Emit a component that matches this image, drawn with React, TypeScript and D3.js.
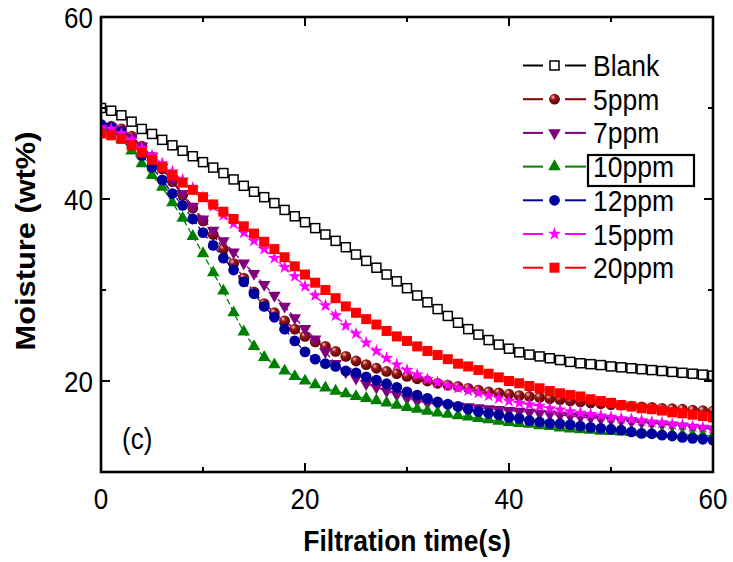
import React from 'react';
import * as d3 from 'd3';

// sample times (s)
const times = d3.range(0, 61, 1);

// moisture (wt%)
const blank = [50.0, 49.7, 49.2, 48.5, 47.7, 47.15, 46.5, 45.9, 45.3, 44.7, 44.05, 43.45, 42.85, 42.15, 41.45, 40.8, 40.2, 39.55, 38.8, 38.1, 37.45, 36.8, 36.1, 35.4, 34.7, 33.9, 33.2, 32.45, 31.7, 30.95, 30.2, 29.4, 28.65, 27.9, 27.15, 26.4, 25.7, 25.1, 24.5, 24.0, 23.55, 23.15, 22.9, 22.7, 22.5, 22.3, 22.1, 21.95, 21.85, 21.75, 21.6, 21.5, 21.4, 21.3, 21.2, 21.1, 21.0, 20.9, 20.8, 20.7, 20.6];
const ppm5 = [48.1, 48.0, 47.7, 46.9, 45.8, 44.6, 43.3, 41.9, 40.4, 39.0, 37.6, 36.1, 34.5, 32.9, 31.3, 29.8, 28.5, 27.5, 26.6, 25.7, 24.9, 24.3, 23.8, 23.25, 22.7, 22.2, 21.8, 21.4, 21.05, 20.8, 20.5, 20.25, 20.0, 19.75, 19.55, 19.4, 19.2, 19.0, 18.8, 18.7, 18.55, 18.4, 18.3, 18.2, 18.05, 17.95, 17.8, 17.7, 17.6, 17.5, 17.4, 17.35, 17.25, 17.15, 17.1, 17.0, 16.95, 16.9, 16.8, 16.75, 16.7];
const ppm7 = [48.0, 47.9, 47.6, 46.8, 45.8, 44.7, 43.5, 42.1, 40.6, 39.2, 37.8, 36.55, 35.4, 34.15, 32.95, 31.8, 30.6, 29.4, 28.2, 26.95, 25.75, 24.6, 23.2, 21.9, 21.0, 20.3, 19.7, 19.3, 18.9, 18.5, 18.1, 17.8, 17.6, 17.45, 17.35, 17.25, 17.15, 17.05, 16.95, 16.85, 16.75, 16.65, 16.55, 16.45, 16.35, 16.25, 16.15, 16.05, 15.95, 15.85, 15.75, 15.65, 15.55, 15.45, 15.35, 15.25, 15.15, 15.05, 14.9, 14.8, 14.7];
const ppm10 = [47.8, 47.4, 46.6, 45.3, 43.9, 42.6, 41.3, 39.6, 37.9, 35.9, 34.0, 31.9, 29.9, 27.5, 25.4, 23.8, 22.6, 21.8, 21.1, 20.5, 20.0, 19.6, 19.25, 18.9, 18.6, 18.3, 18.1, 17.85, 17.6, 17.35, 17.1, 16.9, 16.7, 16.5, 16.35, 16.2, 16.05, 15.9, 15.75, 15.6, 15.45, 15.35, 15.25, 15.1, 15.0, 14.85, 14.75, 14.65, 14.6, 14.5, 14.45, 14.4, 14.35, 14.3, 14.25, 14.2, 14.15, 14.1, 14.05, 14.0, 13.95];
const ppm12 = [48.2, 47.9, 47.4, 46.2, 44.8, 43.5, 42.1, 40.6, 39.3, 37.8, 36.3, 34.9, 33.5, 32.2, 30.9, 29.6, 28.2, 27.0, 25.7, 24.4, 23.2, 22.4, 21.9, 21.6, 21.1, 20.9, 20.45, 20.1, 19.7, 19.3, 18.8, 18.45, 18.1, 17.7, 17.45, 17.2, 16.9, 16.65, 16.45, 16.3, 16.0, 15.9, 15.65, 15.5, 15.35, 15.3, 15.2, 15.05, 14.9, 14.8, 14.7, 14.6, 14.4, 14.25, 14.2, 14.05, 13.95, 13.8, 13.7, 13.6, 13.5];
const ppm15 = [47.9, 47.7, 47.2, 46.5, 45.6, 44.8, 43.9, 43.0, 42.1, 41.2, 40.2, 39.2, 38.2, 37.3, 36.3, 35.4, 34.5, 33.5, 32.5, 31.5, 30.4, 29.4, 28.3, 27.2, 26.1, 25.2, 24.2, 23.3, 22.5, 21.8, 21.2, 20.7, 20.2, 19.85, 19.5, 19.25, 18.95, 18.7, 18.4, 18.1, 17.8, 17.6, 17.4, 17.25, 17.0, 16.85, 16.65, 16.5, 16.35, 16.2, 16.05, 15.9, 15.8, 15.65, 15.5, 15.4, 15.25, 15.15, 15.0, 14.9, 14.8];
const ppm20 = [47.2, 47.0, 46.6, 45.9, 45.1, 44.3, 43.5, 42.6, 41.8, 41.0, 40.2, 39.4, 38.6, 37.8, 37.0, 36.2, 35.3, 34.5, 33.6, 32.6, 31.7, 30.8, 30.0, 29.1, 28.2, 27.5, 26.8, 26.2, 25.5, 24.9, 24.4, 23.8, 23.3, 22.85, 22.4, 21.9, 21.6, 21.2, 20.8, 20.4, 20.0, 19.75, 19.45, 19.2, 18.9, 18.65, 18.45, 18.3, 18.0, 17.8, 17.6, 17.35, 17.2, 17.0, 16.9, 16.75, 16.55, 16.45, 16.3, 16.15, 16.0];

const seriesNames = ['Blank', '5ppm', '7ppm', '10ppm', '12ppm', '15ppm', '20ppm'];
const seriesValues = [blank, ppm5, ppm7, ppm10, ppm12, ppm15, ppm20];
const seriesColors = ['#000000', '#800000', '#800080', '#008000', '#00009c', '#ff00ff', '#ff0000'];
const seriesMarkers = ['openSquare', 'sphere', 'triangleDown', 'triangleUp', 'circle', 'star', 'square'];

const xMajor = [0, 20, 40, 60];
const xMinor = [10, 30, 50];
const yMajor = [20, 40, 60];
const yMinor = [30, 50];

const FONT = '"Liberation Sans", Arial, sans-serif';

function Marker({ kind, x, y, color }) {
    if (kind === 'openSquare') {
        return <rect x={x - 4.5} y={y - 4.5} width={9} height={9} fill="white" stroke={color} strokeWidth={1.5} />;
    }
    if (kind === 'square') {
        return <rect x={x - 5} y={y - 5} width={10} height={10} fill={color} />;
    }
    if (kind === 'circle') {
        return <circle cx={x} cy={y} r={5.4} fill={color} />;
    }
    if (kind === 'sphere') {
        return <circle cx={x} cy={y} r={5.4} fill="url(#sphereGrad)" />;
    }
    if (kind === 'star') {
        return <path d={d3.symbol().type(d3.symbolStar).size(55)()} transform={`translate(${x},${y})`} fill={color} />;
    }
    const rot = kind === 'triangleDown' ? 180 : 0;
    return <path d={d3.symbol().type(d3.symbolTriangle).size(68)()} transform={`translate(${x},${y}) rotate(${rot})`} fill={color} />;
}

export default function App() {
    const width = 733;
    const height = 562;
    const plot = { left: 101, right: 713, top: 17, bottom: 472 };

    const xScale = d3.scaleLinear().domain([0, 60]).range([plot.left, plot.right]);
    const yScale = d3.scaleLinear().domain([10, 60]).range([plot.bottom, plot.top]);

    const line = d3.line().x(d => xScale(d[0])).y(d => yScale(d[1]));

    const stretch = 1.12;

    return (
        <svg width={width} height={height} style={{ position: 'absolute', left: 0, top: 0, background: 'white' }} fontFamily={FONT}>
            <defs>
                <clipPath id="plotClip">
                    <rect x={plot.left} y={plot.top} width={plot.right - plot.left} height={plot.bottom - plot.top} />
                </clipPath>
                <radialGradient id="sphereGrad" cx="40%" cy="35%" r="65%" fx="35%" fy="30%">
                    <stop offset="0%" stopColor="#f4c8c8" />
                    <stop offset="35%" stopColor="#a01818" />
                    <stop offset="100%" stopColor="#5a0000" />
                </radialGradient>
            </defs>
            <rect width={width} height={height} fill="white" />

            {/* data */}
            <g clipPath="url(#plotClip)">
                {seriesValues.map((vals, i) => {
                    const pts = times.map((t, j) => [t, vals[j]]);
                    return (
                        <g key={seriesNames[i]}>
                            <path d={line(pts)} fill="none" stroke={seriesColors[i]} strokeWidth={1.3} strokeDasharray="6 3" />
                            {pts.map((p, j) => (
                                <Marker key={j} kind={seriesMarkers[i]} x={xScale(p[0])} y={yScale(p[1])} color={seriesColors[i]} />
                            ))}
                        </g>
                    );
                })}
            </g>

            {/* frame */}
            <rect x={plot.left} y={plot.top} width={plot.right - plot.left} height={plot.bottom - plot.top} fill="none" stroke="black" strokeWidth={2.6} />

            {/* ticks */}
            <g stroke="black" strokeWidth={2}>
                {xMajor.map(v => (
                    <g key={'xM' + v}>
                        <line x1={xScale(v)} x2={xScale(v)} y1={plot.bottom} y2={plot.bottom - 9} />
                        <line x1={xScale(v)} x2={xScale(v)} y1={plot.top} y2={plot.top + 9} />
                    </g>
                ))}
                {xMinor.map(v => (
                    <g key={'xm' + v}>
                        <line x1={xScale(v)} x2={xScale(v)} y1={plot.bottom} y2={plot.bottom - 5} />
                        <line x1={xScale(v)} x2={xScale(v)} y1={plot.top} y2={plot.top + 5} />
                    </g>
                ))}
                {yMajor.map(v => (
                    <g key={'yM' + v}>
                        <line x1={plot.left} x2={plot.left + 9} y1={yScale(v)} y2={yScale(v)} />
                        <line x1={plot.right} x2={plot.right - 9} y1={yScale(v)} y2={yScale(v)} />
                    </g>
                ))}
                {yMinor.map(v => (
                    <g key={'ym' + v}>
                        <line x1={plot.left} x2={plot.left + 5} y1={yScale(v)} y2={yScale(v)} />
                        <line x1={plot.right} x2={plot.right - 5} y1={yScale(v)} y2={yScale(v)} />
                    </g>
                ))}
            </g>

            {/* tick labels */}
            {xMajor.map(v => (
                <text key={'xl' + v} transform={`translate(${xScale(v)},${509}) scale(1,${stretch})`} textAnchor="middle" fontSize={26}>
                    {v}
                </text>
            ))}
            {yMajor.map(v => (
                <text key={'yl' + v} transform={`translate(${93},${yScale(v) + 10.5}) scale(1,${stretch})`} textAnchor="end" fontSize={26}>
                    {v}
                </text>
            ))}

            {/* axis titles */}
            <text transform={`translate(${(plot.left + plot.right) / 2},${551}) scale(1,${stretch})`} textAnchor="middle" fontSize={26.5} fontWeight="bold">
                Filtration time(s)
            </text>
            <text transform={`translate(${35},${241}) rotate(-90) scale(${1.1},1)`} textAnchor="middle" fontSize={28} fontWeight="bold">
                Moisture (wt%)
            </text>

            {/* panel label */}
            <text transform={`translate(${122},${449}) scale(1,${stretch})`} fontSize={26}>(c)</text>

            {/* legend */}
            <g>
                {seriesNames.map((name, i) => {
                    const y = 65.5 + i * 33.7;
                    return (
                        <g key={'lg' + name}>
                            <line x1={523} x2={543} y1={y} y2={y} stroke={seriesColors[i]} strokeWidth={2} />
                            <line x1={565} x2={586} y1={y} y2={y} stroke={seriesColors[i]} strokeWidth={2} />
                            <Marker kind={seriesMarkers[i]} x={554.5} y={y} color={seriesColors[i]} />
                            <text transform={`translate(${593},${y + 10.5}) scale(1,${stretch})`} fontSize={26.5}>
                                {name}
                            </text>
                        </g>
                    );
                })}
                <rect x={588} y={155} width={106} height={31} fill="none" stroke="black" strokeWidth={2.2} />
            </g>
        </svg>
    );
}
